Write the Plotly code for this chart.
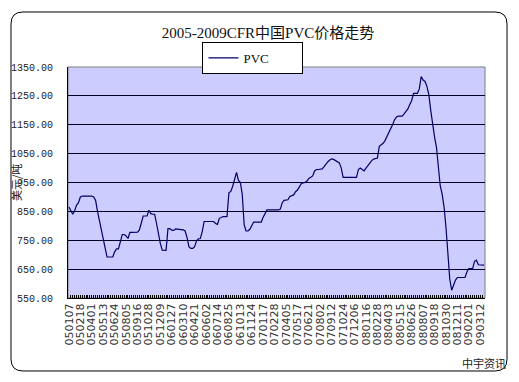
import plotly.graph_objects as go

# ---- data ----
tick_labels = ["050107","050218","050401","050513","050624","050805","050916","051028",
               "051209","060127","060310","060421","060602","060714","060825","061013",
               "061124","070117","070228","070405","070517","070621","070802","070912",
               "071024","071206","080116","080228","080403","080515","080626","080807",
               "080918","081030","081211","090201","090312"]

pvc = [865, 850, 840, 852, 872, 880, 900, 903, 903, 903,
       903, 903, 903, 900, 888, 850, 820, 792, 760, 728,
       692, 692, 692, 692, 710, 720, 720, 750, 770, 770,
       765, 756, 777, 777, 777, 778, 778, 786, 815, 834,
       834, 834, 854, 842, 840, 840, 808, 765, 738, 716,
       715, 715, 790, 790, 785, 784, 789, 789, 788, 787,
       786, 782, 760, 728, 722, 722, 728, 748, 755, 756,
       780, 815, 815, 815, 815, 815, 815, 808, 805, 826,
       830, 832, 832, 832, 914, 919, 937, 958, 985, 957,
       951, 910, 805, 782, 782, 788, 803, 813, 813, 813,
       813, 813, 830, 845, 855, 855, 855, 855, 855, 855,
       855, 858, 880, 888, 889, 890, 902, 904, 907, 918,
       924, 935, 946, 949, 950, 955, 964, 968, 973, 990,
       995, 995, 995, 997, 1005, 1015, 1022, 1028, 1032, 1030,
       1026, 1022, 1018, 1000, 968, 968, 968, 968, 968, 968,
       968, 968, 995, 1000, 995, 990, 1000, 1009, 1019, 1026,
       1031, 1033, 1035, 1075, 1079, 1086, 1095, 1108, 1122, 1133,
       1151, 1167, 1177, 1180, 1180, 1180, 1188, 1198, 1205, 1220,
       1234, 1259, 1259, 1259, 1274, 1317, 1305, 1300, 1283, 1254,
       1200, 1148, 1108, 1072, 1000, 938, 910, 865, 795, 700,
       615, 577, 595, 612, 621, 621, 621, 621, 621, 640,
       652, 652, 652, 677, 681, 665, 664, 664, 664]

y_ticks = [550, 650, 750, 850, 950, 1050, 1150, 1250, 1350]
LABEL_STEP = 6

x_idx = list(range(len(pvc)))
tick_pos = x_idx[::LABEL_STEP][:len(tick_labels)]

W, H = 519, 382
L, R, T, B = 68, 485, 67, 298


def px(x):
    return round((x - L) / (R - L), 4)


def py(y):
    return round((B - y) / (B - T), 4)


fig = go.Figure()
fig.add_trace(go.Scatter(x=x_idx, y=pvc, mode="lines", name="PVC",
                         line=dict(color="#000066", width=1.2)))

mono = "Liberation Mono, DejaVu Sans Mono, monospace"
cjk = "Liberation Serif, Noto Sans CJK SC, serif"

fig.update_layout(
    width=W, height=H,
    margin=dict(l=L, r=W - R, t=T, b=H - B, autoexpand=False),
    paper_bgcolor="white",
    plot_bgcolor="#CCCCFF",
    title=dict(text="2005-2009CFR中国PVC价格走势", x=268 / W, xanchor="center",
               y=1 - 33 / H, yanchor="middle",
               font=dict(family=cjk, size=15, color="#111111")),
    showlegend=True,
    legend=dict(x=px(253), xanchor="center", y=py(42), yanchor="top",
                orientation="h", bgcolor="white", bordercolor="black", borderwidth=1,
                font=dict(family="Liberation Serif, serif", size=13, color="#111111"),
                itemwidth=30, entrywidth=54, entrywidthmode="pixels"),
    xaxis=dict(range=[-0.5, len(pvc) - 0.5], tickmode="array", tickvals=tick_pos,
               ticktext=tick_labels, tickangle=-90, showgrid=False, zeroline=False,
               showline=True, linecolor="black", linewidth=1,
               ticks="inside", ticklen=3, tickcolor="black",
               minor=dict(dtick=1, tick0=0, ticks="inside", ticklen=3, tickcolor="black"),
               tickfont=dict(family="DejaVu Sans, sans-serif", size=11, color="#333333")),
    yaxis=dict(range=[550, 1350], tickmode="array", tickvals=y_ticks,
               ticktext=[f"{v:.2f}" for v in y_ticks],
               showgrid=True, gridcolor="#000022", gridwidth=1, zeroline=False,
               showline=True, linecolor="black", linewidth=1, ticks="",
               ticklabelstandoff=12,
               tickfont=dict(family=mono, size=10, color="#222222")),
)

# plot-area frame (grey top/right edges)
fig.add_shape(type="rect", xref="paper", yref="paper", x0=0, x1=1, y0=0, y1=1,
              line=dict(color="#808080", width=1), layer="below")

# outer rounded chart border
x0, x1, y0, y1, r = 11, 507, 12, 371, 12
path = (f"M{px(x0 + r)},{py(y0)} L{px(x1 - r)},{py(y0)} "
        f"Q{px(x1)},{py(y0)} {px(x1)},{py(y0 + r)} L{px(x1)},{py(y1 - r)} "
        f"Q{px(x1)},{py(y1)} {px(x1 - r)},{py(y1)} L{px(x0 + r)},{py(y1)} "
        f"Q{px(x0)},{py(y1)} {px(x0)},{py(y1 - r)} L{px(x0)},{py(y0 + r)} "
        f"Q{px(x0)},{py(y0)} {px(x0 + r)},{py(y0)} Z")
fig.add_shape(type="path", xref="paper", yref="paper", path=path,
              line=dict(color="black", width=1), fillcolor="rgba(0,0,0,0)")

fig.add_annotation(text="美元/吨", xref="paper", yref="paper", x=px(16), y=py(183),
                   textangle=-90, showarrow=False, xanchor="center", yanchor="middle",
                   font=dict(family="Noto Sans CJK SC", size=11, color="#222222"))
fig.add_annotation(text="中宇资讯", xref="paper", yref="paper", x=px(484), y=py(363),
                   showarrow=False, xanchor="center", yanchor="middle",
                   font=dict(family="Noto Sans CJK SC", size=11, color="#222222"))

fig.write_html("out.html", config={"displayModeBar": False},
               post_script="document.body.style.margin='0';")
